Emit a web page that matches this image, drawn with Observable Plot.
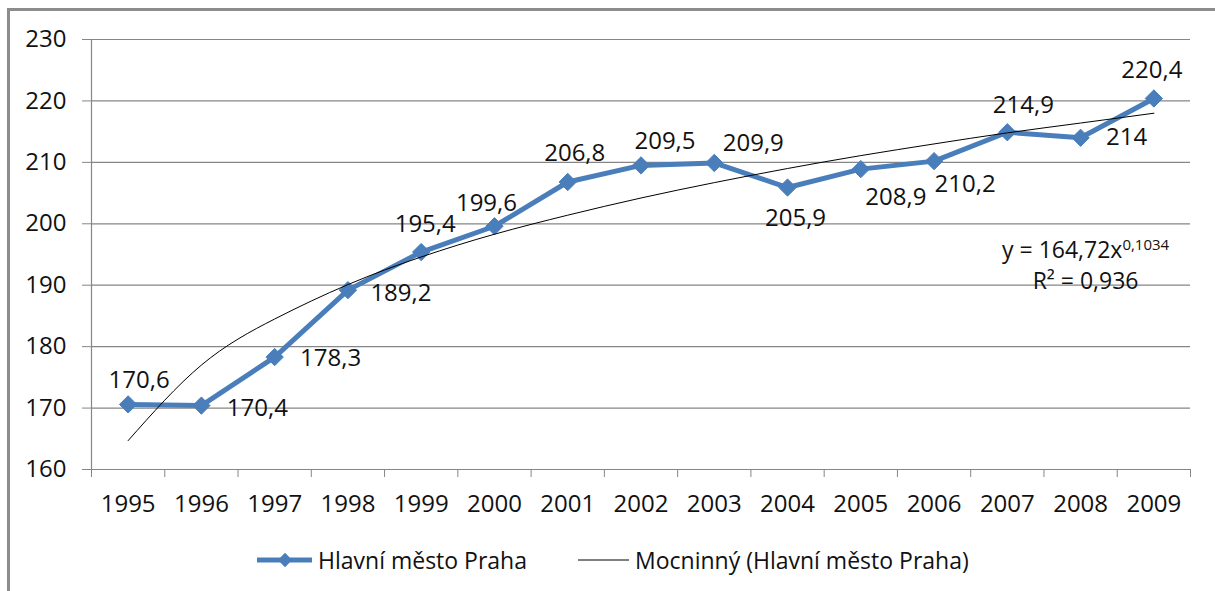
<!DOCTYPE html>
<html><head><meta charset="utf-8">
<script src="https://cdn.jsdelivr.net/npm/d3@7"></script>
<script src="https://cdn.jsdelivr.net/npm/@observablehq/plot@0.6"></script>
<style>
body{margin:0;background:#fff;font-family:"Open Sans",sans-serif;width:1215px;height:591px;overflow:hidden;position:relative;}
#frame{position:absolute;left:7px;top:8px;width:1240px;height:620px;border-left:3px solid #8c8c8c;border-top:3px solid #8c8c8c;}
#chart{position:absolute;left:0;top:0;}
.leg{position:absolute;top:545px;height:30px;display:flex;align-items:center;font-size:23px;color:#111;white-space:nowrap;}
.leg svg{margin-right:5px;}
</style></head><body>
<div id="frame"></div><div id="chart"></div>
<div class="leg" id="leg1"></div><div class="leg" id="leg2"></div>
<script>
// ---- data ----
const years = ["1995","1996","1997","1998","1999","2000","2001","2002","2003","2004","2005","2006","2007","2008","2009"];
const values = [170.6,170.4,178.3,189.2,195.4,199.6,206.8,209.5,209.9,205.9,208.9,210.2,214.9,214,220.4];
// power trendline (Mocninný): y = 164,72x^0,1034
const trendValues = [164.7,177.0,184.5,190.1,194.6,198.3,201.4,204.2,206.7,209.0,211.1,213.0,214.8,216.4,218.0];
const yTicks = [160,170,180,190,200,210,220,230];
const seriesName = "Hlavní město Praha";
const trendName = "Mocninný (Hlavní město Praha)";
const equationLines = ["y = 164,72x^0,1034", "R² = 0,936"];

// ---- layout helpers (styles) ----
const blue = "#4a7ebb";
const grey = "#868686";
const labelOffsets = [[11,-24],[56,3],[56,1],[53,3],[4,-28],[-8,-23],[7,-29],[24,-24],[39,-20],[8,31],[35,28],[31,23],[16,-27],[46,0],[-2,-28]];

const data = years.map((y, i) => ({i: i + 1, year: y, v: values[i], label: String(values[i]).replace(".", ",")}));
const trend = years.map((y, i) => ({i: i + 1, v: trendValues[i]}));
const idx = d3.range(1, years.length + 1);
const bounds = d3.range(0.5, years.length + 1, 1);

const labelMarks = data.map((d, k) => Plot.text([d], {
  x: "i", y: "v", text: "label", dx: labelOffsets[k][0], dy: labelOffsets[k][1],
  fontSize: 24, fill: "#111", textAnchor: "middle", lineAnchor: "middle"
}));

const chart = Plot.plot({
  width: 1215, height: 529,
  marginLeft: 91, marginRight: 25, marginTop: 39, marginBottom: 60,
  style: {fontFamily: "'Open Sans', sans-serif", fontSize: "24px", color: "#111", background: "transparent"},
  x: {type: "linear", domain: [0.5, years.length + 0.5]},
  y: {domain: [160, 230]},
  marks: [
    Plot.gridY(yTicks, {stroke: grey, strokeOpacity: 1, strokeWidth: 1.2}),
    Plot.ruleX([0.5], {stroke: grey, strokeWidth: 1.2}),
    Plot.axisY({ticks: yTicks, tickSize: 9, tickPadding: 16, stroke: grey, fill: "#111", label: null, fontSize: 24}),
    Plot.axisX({ticks: bounds, tickSize: 8, tickFormat: () => "", stroke: grey, label: null}),
    Plot.axisX({ticks: idx, tickSize: 0, tickPadding: 25, tickFormat: i => years[i - 1], fill: "#111", label: null, fontSize: 24}),
    Plot.line(data, {x: "i", y: "v", stroke: blue, strokeWidth: 5, strokeLinejoin: "round"}),
    Plot.dot(data, {x: "i", y: "v", symbol: "diamond2", r: 7.8, fill: blue, stroke: blue, strokeWidth: 1}),
    Plot.line(trend, {x: "i", y: "v", stroke: "#000", strokeWidth: 1, curve: "natural"}),
    ...labelMarks,
    Plot.text([equationLines[0]], {x: () => 14, y: () => 195.6, text: d => d, dx: 5, fontSize: 23, fill: "#111", textAnchor: "middle", lineAnchor: "middle"}),
    Plot.text([equationLines[1]], {x: () => 14, y: () => 190.6, text: d => d, dx: 5, fontSize: 23, fill: "#111", textAnchor: "middle", lineAnchor: "middle"})
  ]
});
document.getElementById("chart").appendChild(chart);

// superscript in the equation
d3.select(chart).selectAll("text").filter(function () { return this.textContent === equationLines[0]; })
  .each(function () {
    const parts = equationLines[0].split("^");
    const t = d3.select(this);
    const tgt = t.select("tspan").empty() ? t : t.select("tspan");
    tgt.text(parts[0]);
    tgt.append("tspan").attr("dy", "-0.55em").attr("font-size", 15).text(parts[1]);
  });

// legend
const l1 = d3.select("#leg1").style("left", "257px");
const s1 = l1.append("svg").attr("width", 56).attr("height", 20);
s1.append("line").attr("x1", 0).attr("x2", 55).attr("y1", 10).attr("y2", 10).attr("stroke", blue).attr("stroke-width", 5);
s1.append("path").attr("d", d3.symbol(d3.symbolDiamond2, 130)()).attr("transform", "translate(28,10)").attr("fill", blue);
l1.append("span").text(seriesName);
const l2 = d3.select("#leg2").style("left", "578px");
const s2 = l2.append("svg").attr("width", 52).attr("height", 20);
s2.append("line").attr("x1", 0).attr("x2", 51).attr("y1", 10).attr("y2", 10).attr("stroke", "#000").attr("stroke-width", 1);
l2.append("span").text(trendName);
</script>
</body></html>
